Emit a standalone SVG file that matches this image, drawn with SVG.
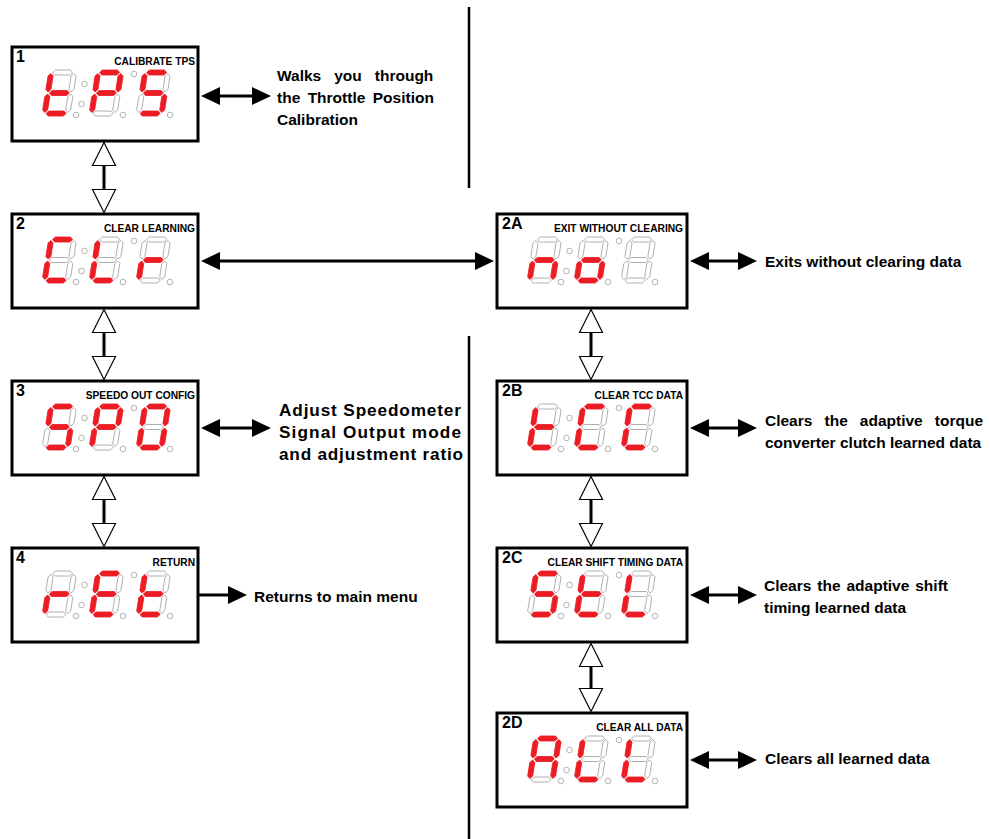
<svg xmlns="http://www.w3.org/2000/svg" xmlns:xlink="http://www.w3.org/1999/xlink" width="990" height="839" viewBox="0 0 990 839">
<style>
.bg{fill:#fff}
.box{fill:#fff;stroke:#000;stroke-width:3}
.off{fill:#fff;stroke:#a0a0a0;stroke-width:0.8}
.on{fill:#ec1c24;stroke:#ec1c24;stroke-width:0.8}
.dot{fill:#fff;stroke:#a0a0a0;stroke-width:0.8}
.num{font-family:"Liberation Sans",Arial,sans-serif;font-weight:bold;font-size:16px;fill:#000}
.ttl{font-family:"Liberation Sans",Arial,sans-serif;font-weight:bold;font-size:10.2px;fill:#000;text-anchor:end}
.desc{font-family:"Liberation Sans",Arial,sans-serif;font-weight:bold;font-size:15.5px;fill:#000}
.big{font-size:17.2px}
.sep{stroke:#000;stroke-width:2.5}
.fl{stroke:#000;stroke-width:3;fill:none;marker-start:url(#ah);marker-end:url(#ah)}
.fl1{stroke:#000;stroke-width:3;fill:none;marker-end:url(#ah)}
.hl{stroke:#000;stroke-width:3;fill:none;marker-start:url(#hh);marker-end:url(#hh)}
</style>
<defs>
<polygon id="a" points="4,2.5 6.5,0 21.5,0 24,2.5 21.5,5 6.5,5"/>
<polygon id="g" points="4,23 6.5,20.5 21.5,20.5 24,23 21.5,25.5 6.5,25.5"/>
<polygon id="d" points="4,43.5 6.5,41 21.5,41 24,43.5 21.5,46 6.5,46"/>
<polygon id="f" points="2.5,3.5 5,6 5,19.5 2.5,22 0,19.5 0,6"/>
<polygon id="e" points="2.5,24 5,26.5 5,40 2.5,42.5 0,40 0,26.5"/>
<polygon id="b" points="25.5,3.5 28,6 28,19.5 25.5,22 23,19.5 23,6"/>
<polygon id="c" points="25.5,24 28,26.5 28,40 25.5,42.5 23,40 23,26.5"/>
<g id="dots">
<circle class="dot" cx="72.5" cy="37" r="2.8"/>
<circle class="dot" cx="69.5" cy="57" r="2.8"/>
<circle class="dot" cx="122" cy="27" r="2.8"/>
<circle class="dot" cx="64" cy="68" r="2.8"/>
<circle class="dot" cx="111" cy="68" r="2.8"/>
<circle class="dot" cx="158" cy="68" r="2.8"/>
</g>
<marker id="ah" viewBox="0 -10 20 20" refX="0" refY="0" markerWidth="20" markerHeight="20" markerUnits="userSpaceOnUse" orient="auto-start-reverse" overflow="visible">
<path d="M0,-9 L19,0 L0,9 Z" fill="#000"/>
</marker>
<marker id="hh" viewBox="-1 -13 26 26" refX="0" refY="0" markerWidth="26" markerHeight="26" markerUnits="userSpaceOnUse" orient="auto-start-reverse" overflow="visible">
<path d="M0,-11.5 L23,0 L0,11.5 Z" fill="#fff" stroke="#000" stroke-width="1.2" stroke-linejoin="miter"/>
</marker>
</defs>
<rect class="bg" x="0" y="0" width="990" height="839"/>

<g id="separators">
<line class="sep" x1="469" y1="7" x2="469" y2="188"/>
<line class="sep" x1="469" y1="336" x2="469" y2="839"/>
</g>

<g id="connectors">
<line class="fl" x1="220" y1="96" x2="252" y2="96"/>
<line class="fl" x1="220" y1="261" x2="475" y2="261"/>
<line class="fl" x1="220" y1="428" x2="252" y2="428"/>
<line class="fl1" x1="198" y1="595" x2="228" y2="595"/>
<line class="fl" x1="709" y1="261" x2="738" y2="261"/>
<line class="fl" x1="709" y1="428" x2="738" y2="428"/>
<line class="fl" x1="709" y1="595" x2="738" y2="595"/>
<line class="fl" x1="709" y1="760" x2="738" y2="760"/>
<line class="hl" x1="104" y1="165.5" x2="104" y2="189.5"/>
<line class="hl" x1="104" y1="332.5" x2="104" y2="356.5"/>
<line class="hl" x1="104" y1="499.5" x2="104" y2="523.5"/>
<line class="hl" x1="591" y1="332.5" x2="591" y2="356.5"/>
<line class="hl" x1="591" y1="499.5" x2="591" y2="523.5"/>
<line class="hl" x1="591" y1="666.5" x2="591" y2="688.5"/>
</g>

<g id="node1" transform="translate(12,47)">
<rect class="box" x="0" y="0" width="186" height="94"/>
<text class="num" x="4" y="15">1</text>
<text class="ttl" x="183" y="18">CALIBRATE TPS</text>
<use href="#dots"/>
<g transform="translate(37,23) skewX(-9)"><use href="#a" class="off"/><use href="#b" class="off"/><use href="#c" class="off"/><use href="#f" class="on"/><use href="#g" class="on"/><use href="#e" class="on"/><use href="#d" class="on"/></g>
<g transform="translate(84,23) skewX(-9)"><use href="#c" class="off"/><use href="#d" class="off"/><use href="#a" class="on"/><use href="#b" class="on"/><use href="#f" class="on"/><use href="#g" class="on"/><use href="#e" class="on"/></g>
<g transform="translate(131,23) skewX(-9)"><use href="#b" class="off"/><use href="#e" class="off"/><use href="#a" class="on"/><use href="#f" class="on"/><use href="#g" class="on"/><use href="#c" class="on"/><use href="#d" class="on"/></g>
</g>

<g id="node2" transform="translate(12,214)">
<rect class="box" x="0" y="0" width="186" height="94"/>
<text class="num" x="4" y="15">2</text>
<text class="ttl" x="183" y="18">CLEAR LEARNING</text>
<use href="#dots"/>
<g transform="translate(37,23) skewX(-9)"><use href="#b" class="off"/><use href="#c" class="off"/><use href="#g" class="off"/><use href="#a" class="on"/><use href="#f" class="on"/><use href="#e" class="on"/><use href="#d" class="on"/></g>
<g transform="translate(84,23) skewX(-9)"><use href="#a" class="off"/><use href="#b" class="off"/><use href="#c" class="off"/><use href="#g" class="off"/><use href="#f" class="on"/><use href="#e" class="on"/><use href="#d" class="on"/></g>
<g transform="translate(131,23) skewX(-9)"><use href="#a" class="off"/><use href="#b" class="off"/><use href="#c" class="off"/><use href="#f" class="off"/><use href="#d" class="off"/><use href="#g" class="on"/><use href="#e" class="on"/></g>
</g>

<g id="node3" transform="translate(12,381)">
<rect class="box" x="0" y="0" width="186" height="94"/>
<text class="num" x="4" y="15">3</text>
<text class="ttl" x="183" y="18">SPEEDO OUT CONFIG</text>
<use href="#dots"/>
<g transform="translate(37,23) skewX(-9)"><use href="#b" class="off"/><use href="#e" class="off"/><use href="#a" class="on"/><use href="#f" class="on"/><use href="#g" class="on"/><use href="#c" class="on"/><use href="#d" class="on"/></g>
<g transform="translate(84,23) skewX(-9)"><use href="#c" class="off"/><use href="#d" class="off"/><use href="#a" class="on"/><use href="#b" class="on"/><use href="#f" class="on"/><use href="#g" class="on"/><use href="#e" class="on"/></g>
<g transform="translate(131,23) skewX(-9)"><use href="#g" class="off"/><use href="#a" class="on"/><use href="#b" class="on"/><use href="#c" class="on"/><use href="#d" class="on"/><use href="#e" class="on"/><use href="#f" class="on"/></g>
</g>

<g id="node4" transform="translate(12,548)">
<rect class="box" x="0" y="0" width="186" height="94"/>
<text class="num" x="4" y="15">4</text>
<text class="ttl" x="183" y="18">RETURN</text>
<use href="#dots"/>
<g transform="translate(37,23) skewX(-9)"><use href="#a" class="off"/><use href="#b" class="off"/><use href="#c" class="off"/><use href="#f" class="off"/><use href="#d" class="off"/><use href="#g" class="on"/><use href="#e" class="on"/></g>
<g transform="translate(84,23) skewX(-9)"><use href="#b" class="off"/><use href="#c" class="off"/><use href="#a" class="on"/><use href="#f" class="on"/><use href="#g" class="on"/><use href="#e" class="on"/><use href="#d" class="on"/></g>
<g transform="translate(131,23) skewX(-9)"><use href="#a" class="off"/><use href="#b" class="off"/><use href="#c" class="off"/><use href="#f" class="on"/><use href="#g" class="on"/><use href="#e" class="on"/><use href="#d" class="on"/></g>
</g>

<g id="node2A" transform="translate(497,214)">
<rect class="box" x="0" y="0" width="190" height="94"/>
<text class="num" x="5" y="15">2A</text>
<text class="ttl" x="186" y="18">EXIT WITHOUT CLEARING</text>
<use href="#dots"/>
<g transform="translate(37,23) skewX(-9)"><use href="#a" class="off"/><use href="#b" class="off"/><use href="#f" class="off"/><use href="#d" class="off"/><use href="#g" class="on"/><use href="#e" class="on"/><use href="#c" class="on"/></g>
<g transform="translate(84,23) skewX(-9)"><use href="#a" class="off"/><use href="#b" class="off"/><use href="#f" class="off"/><use href="#g" class="on"/><use href="#e" class="on"/><use href="#c" class="on"/><use href="#d" class="on"/></g>
<g transform="translate(131,23) skewX(-9)"><use href="#a" class="off"/><use href="#b" class="off"/><use href="#c" class="off"/><use href="#d" class="off"/><use href="#e" class="off"/><use href="#f" class="off"/><use href="#g" class="off"/></g>
</g>

<g id="node2B" transform="translate(497,381)">
<rect class="box" x="0" y="0" width="190" height="94"/>
<text class="num" x="5" y="15">2B</text>
<text class="ttl" x="186" y="18">CLEAR TCC DATA</text>
<use href="#dots"/>
<g transform="translate(37,23) skewX(-9)"><use href="#a" class="off"/><use href="#b" class="off"/><use href="#c" class="off"/><use href="#f" class="on"/><use href="#g" class="on"/><use href="#e" class="on"/><use href="#d" class="on"/></g>
<g transform="translate(84,23) skewX(-9)"><use href="#b" class="off"/><use href="#c" class="off"/><use href="#g" class="off"/><use href="#a" class="on"/><use href="#f" class="on"/><use href="#e" class="on"/><use href="#d" class="on"/></g>
<g transform="translate(131,23) skewX(-9)"><use href="#b" class="off"/><use href="#c" class="off"/><use href="#g" class="off"/><use href="#a" class="on"/><use href="#f" class="on"/><use href="#e" class="on"/><use href="#d" class="on"/></g>
</g>

<g id="node2C" transform="translate(497,548)">
<rect class="box" x="0" y="0" width="190" height="94"/>
<text class="num" x="5" y="15">2C</text>
<text class="ttl" x="186" y="18">CLEAR SHIFT TIMING DATA</text>
<use href="#dots"/>
<g transform="translate(37,23) skewX(-9)"><use href="#b" class="off"/><use href="#e" class="off"/><use href="#a" class="on"/><use href="#f" class="on"/><use href="#g" class="on"/><use href="#c" class="on"/><use href="#d" class="on"/></g>
<g transform="translate(84,23) skewX(-9)"><use href="#a" class="off"/><use href="#b" class="off"/><use href="#c" class="off"/><use href="#f" class="on"/><use href="#g" class="on"/><use href="#e" class="on"/><use href="#d" class="on"/></g>
<g transform="translate(131,23) skewX(-9)"><use href="#a" class="off"/><use href="#b" class="off"/><use href="#c" class="off"/><use href="#g" class="off"/><use href="#f" class="on"/><use href="#e" class="on"/><use href="#d" class="on"/></g>
</g>

<g id="node2D" transform="translate(497,713)">
<rect class="box" x="0" y="0" width="190" height="94"/>
<text class="num" x="5" y="15">2D</text>
<text class="ttl" x="186" y="18">CLEAR ALL DATA</text>
<use href="#dots"/>
<g transform="translate(37,23) skewX(-9)"><use href="#d" class="off"/><use href="#a" class="on"/><use href="#b" class="on"/><use href="#c" class="on"/><use href="#e" class="on"/><use href="#f" class="on"/><use href="#g" class="on"/></g>
<g transform="translate(84,23) skewX(-9)"><use href="#a" class="off"/><use href="#b" class="off"/><use href="#c" class="off"/><use href="#g" class="off"/><use href="#f" class="on"/><use href="#e" class="on"/><use href="#d" class="on"/></g>
<g transform="translate(131,23) skewX(-9)"><use href="#a" class="off"/><use href="#b" class="off"/><use href="#c" class="off"/><use href="#g" class="off"/><use href="#f" class="on"/><use href="#e" class="on"/><use href="#d" class="on"/></g>
</g>

<g id="descriptions">
<text class="desc" x="277" y="81" word-spacing="8.7">Walks you through</text>
<text class="desc" x="277" y="103" word-spacing="3.1">the Throttle Position</text>
<text class="desc" x="277" y="125">Calibration</text>
<text class="desc" x="765" y="267">Exits without clearing data</text>
<text class="desc big" x="279" y="416" textLength="182" lengthAdjust="spacing">Adjust Speedometer</text>
<text class="desc big" x="279" y="438" textLength="182" lengthAdjust="spacing">Signal Output mode</text>
<text class="desc big" x="279" y="460" textLength="184" lengthAdjust="spacing">and adjustment ratio</text>
<text class="desc" x="765" y="426" word-spacing="7.8">Clears the adaptive torque</text>
<text class="desc" x="765" y="448">converter clutch learned data</text>
<text class="desc" x="254" y="602">Returns to main menu</text>
<text class="desc" x="764" y="591" word-spacing="1.6">Clears the adaptive shift</text>
<text class="desc" x="764" y="613">timing learned data</text>
<text class="desc" x="765" y="764">Clears all learned data</text>
</g>
</svg>
